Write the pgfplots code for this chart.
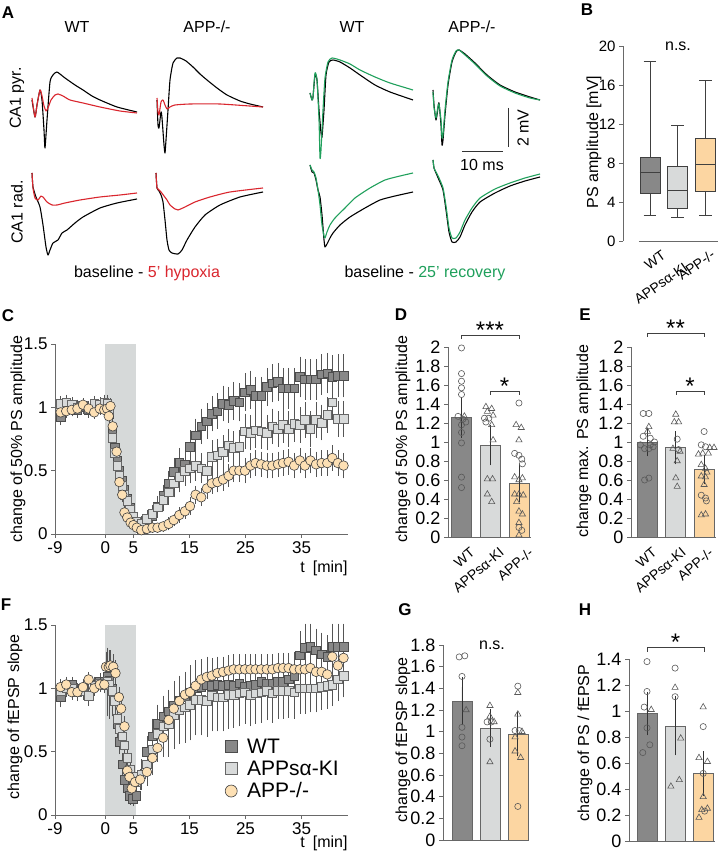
\documentclass[border=0pt]{standalone}
\usepackage{pgfplots}
\pgfplotsset{compat=1.18}
\usepackage{pgfplotstable}
\usepackage{fontspec}
\setmainfont{Liberation Sans}
\setsansfont{Liberation Sans}
\newcommand\fs[1]{\fontsize{#1}{#1}\selectfont}

\definecolor{wtc}{RGB}{136,136,136}
\definecolor{kic}{RGB}{216,218,218}
\definecolor{appc}{RGB}{252,214,162}
\definecolor{appm}{RGB}{253,224,180}
\definecolor{shadec}{RGB}{214,217,217}
\definecolor{axg}{RGB}{105,105,105}
\definecolor{errc}{RGB}{85,85,85}
\definecolor{redt}{RGB}{218,38,46}
\definecolor{greent}{RGB}{32,160,92}

\pgfplotsset{
  panel/.style={scale only axis, enlargelimits=false, clip=false, anchor=south west,
    axis x line*=bottom, axis y line*=left,
    axis line style={-, draw=axg, line width=0.8pt},
    tick style={draw=axg, line width=0.8pt},
    tick align=outside, major tick length=4pt,
    /pgf/number format/assume math mode=true},
  wtS/.style={only marks, mark=square*, mark size=4.3pt,
    mark options={fill=wtc, draw=black!70, line width=0.6pt},
    error bars/y dir=both, error bars/y explicit,
    error bars/error bar style={draw=errc, line width=0.5pt},
    error bars/error mark options={draw=errc, line width=0.5pt, mark size=2.6pt}},
  kiS/.style={only marks, mark=square*, mark size=4.3pt,
    mark options={fill=kic, draw=black!60, line width=0.6pt},
    error bars/y dir=both, error bars/y explicit,
    error bars/error bar style={draw=errc, line width=0.5pt},
    error bars/error mark options={draw=errc, line width=0.5pt, mark size=2.6pt}},
  appS/.style={only marks, mark=*, mark size=4.8pt,
    mark options={fill=appm, draw=black!75, line width=0.6pt},
    error bars/y dir=both, error bars/y explicit,
    error bars/error bar style={draw=errc, line width=0.5pt},
    error bars/error mark options={draw=errc, line width=0.5pt, mark size=2.6pt}},
  barS/.style={ybar, bar width=20pt, bar shift=0pt, draw=black!60, line width=0.6pt,
    error bars/y dir=both, error bars/y explicit,
    error bars/error bar style={draw=black!80, line width=0.8pt},
    error bars/error mark options={draw=black!80, line width=0.8pt, mark size=10pt}},
  ptC/.style={only marks, mark=o, mark size=3.1pt, mark options={draw=black!65, line width=0.6pt}},
  ptT/.style={only marks, mark=triangle, mark size=3.6pt, mark options={draw=black!65, line width=0.6pt}},
  trace/.style={line width=1.1pt, smooth, tension=0.35, line join=round},
  boxS/.style={draw=black!75, line width=0.9pt},
}

\pgfplotstableread{
t v e
-8 0.92 0.04
-7 1.00 0.04
-6 0.99 0.04
-5 0.98 0.04
-4 1.00 0.03
-3 0.98 0.04
-2 1.00 0.03
-1 1.02 0.04
-0.2 1.01 0.04
0.3 1.00 0.05
0.7 0.95 0.05
1.2 0.80 0.06
1.7 0.68 0.06
2.1 0.58 0.06
2.5 0.50 0.06
3.0 0.42 0.05
3.4 0.35 0.05
3.9 0.28 0.05
4.4 0.21 0.04
4.9 0.14 0.04
5.5 0.08 0.03
6.4 0.04 0.03
7.4 0.08 0.04
8.4 0.14 0.05
9.3 0.22 0.06
10.3 0.30 0.07
11.3 0.40 0.08
12.2 0.49 0.09
13.2 0.56 0.10
14.2 0.55 0.10
15.1 0.69 0.11
16.1 0.78 0.11
17.1 0.85 0.12
18.1 0.89 0.12
19.0 0.95 0.12
20.0 0.97 0.12
21.0 1.03 0.12
22.0 1.02 0.12
22.9 1.05 0.13
23.9 1.04 0.13
24.9 1.12 0.13
25.9 1.14 0.13
26.8 1.09 0.13
27.8 1.09 0.13
28.8 1.16 0.13
29.8 1.19 0.13
30.8 1.20 0.13
31.7 1.15 0.14
32.7 1.15 0.14
33.7 1.15 0.14
34.7 1.24 0.14
35.6 1.22 0.14
36.6 1.22 0.14
37.6 1.22 0.14
38.6 1.26 0.14
39.6 1.27 0.14
40.5 1.24 0.15
41.5 1.25 0.15
42.5 1.25 0.15
}\cWT

\pgfplotstableread{
t v e
-8 1.03 0.04
-7 1.04 0.04
-6 1.02 0.04
-5 1.00 0.04
-4 1.01 0.04
-3 0.99 0.04
-2 1.03 0.04
-1 1.02 0.04
-0.2 1.04 0.04
0.3 1.03 0.05
0.7 0.97 0.05
1.2 0.76 0.06
1.7 0.64 0.06
2.1 0.54 0.06
2.5 0.46 0.05
3.0 0.38 0.05
3.4 0.31 0.05
3.9 0.26 0.05
4.4 0.19 0.04
4.9 0.14 0.04
5.5 0.10 0.04
6.4 0.08 0.04
7.4 0.12 0.05
8.4 0.16 0.05
9.3 0.21 0.06
10.3 0.27 0.07
11.3 0.33 0.08
12.2 0.40 0.09
13.2 0.45 0.10
14.2 0.50 0.10
15.1 0.52 0.10
16.1 0.54 0.10
17.1 0.52 0.10
18.1 0.50 0.10
19.0 0.61 0.11
20.0 0.62 0.11
21.0 0.65 0.11
22.0 0.70 0.11
22.9 0.68 0.11
23.9 0.69 0.11
24.9 0.81 0.12
25.9 0.80 0.12
26.8 0.82 0.12
27.8 0.81 0.12
28.8 0.80 0.12
29.8 0.85 0.12
30.8 0.83 0.12
31.7 0.86 0.12
32.7 0.83 0.12
33.7 0.87 0.12
34.7 0.86 0.12
35.6 0.90 0.12
36.6 0.83 0.12
37.6 0.90 0.12
38.6 0.88 0.12
39.6 0.94 0.12
40.5 1.04 0.12
41.5 0.91 0.12
42.5 0.91 0.12
}\cKI

\pgfplotstableread{
t v e
-8 0.96 0.03
-7 0.97 0.03
-6 0.98 0.03
-5 0.99 0.03
-4 1.02 0.03
-3 0.99 0.03
-2 0.96 0.03
-1 0.99 0.03
-0.2 0.98 0.03
0.3 0.99 0.03
0.6 0.93 0.04
0.9 1.01 0.04
1.3 0.85 0.05
2.0 0.65 0.05
2.5 0.41 0.05
3.0 0.31 0.04
3.4 0.17 0.03
3.9 0.13 0.03
4.5 0.09 0.02
5.0 0.07 0.02
5.6 0.05 0.02
6.4 0.03 0.02
7.4 0.04 0.02
8.4 0.05 0.02
9.3 0.05 0.02
10.3 0.06 0.02
11.3 0.08 0.03
12.2 0.11 0.03
13.2 0.15 0.04
14.2 0.18 0.04
15.1 0.22 0.05
16.1 0.31 0.05
17.1 0.29 0.05
18.1 0.36 0.06
19.0 0.40 0.06
20.0 0.41 0.06
21.0 0.43 0.07
22.0 0.46 0.07
22.9 0.50 0.07
23.9 0.50 0.07
24.9 0.50 0.08
25.9 0.54 0.08
26.8 0.56 0.08
27.8 0.55 0.08
28.8 0.54 0.08
29.8 0.54 0.08
30.8 0.55 0.08
31.7 0.56 0.08
32.7 0.57 0.08
33.7 0.54 0.08
34.7 0.58 0.08
35.6 0.54 0.08
36.6 0.58 0.08
37.6 0.55 0.08
38.6 0.56 0.08
39.6 0.56 0.08
40.5 0.60 0.08
41.5 0.56 0.08
42.5 0.54 0.08
}\cAPP

\pgfplotstableread{
t v e
-8 0.93 0.06
-7 1.02 0.05
-6 1.03 0.04
-5 0.98 0.04
-4 1.00 0.05
-3 0.94 0.05
-2 1.03 0.04
-1 1.05 0.05
-0.2 1.05 0.05
0.3 1.09 0.20
0.7 1.06 0.22
1.2 1.00 0.15
1.7 0.90 0.12
2.1 0.72 0.10
2.5 0.58 0.08
3.0 0.40 0.07
3.4 0.28 0.06
3.9 0.21 0.05
4.4 0.15 0.05
4.9 0.13 0.04
5.5 0.15 0.04
6.4 0.32 0.08
7.4 0.50 0.10
8.4 0.62 0.12
9.3 0.72 0.13
10.3 0.78 0.14
11.3 0.82 0.15
12.2 0.86 0.16
13.2 0.90 0.17
14.2 0.93 0.18
15.1 0.97 0.19
16.1 1.00 0.20
17.1 1.01 0.20
18.1 1.03 0.20
19.0 1.02 0.20
20.0 1.03 0.20
21.0 1.02 0.20
22.0 1.03 0.20
22.9 1.02 0.20
23.9 1.04 0.20
24.9 1.01 0.20
25.9 1.02 0.19
26.8 1.03 0.19
27.8 1.05 0.19
28.8 1.04 0.18
29.8 1.04 0.18
30.8 1.05 0.18
31.7 1.05 0.18
32.7 1.07 0.18
33.7 1.10 0.17
34.7 1.26 0.17
35.6 1.32 0.17
36.6 1.33 0.16
37.6 1.30 0.15
38.6 1.27 0.15
39.6 1.25 0.15
40.5 1.33 0.16
41.5 1.33 0.16
42.5 1.33 0.16
}\fWT

\pgfplotstableread{
t v e
-8 0.98 0.06
-7 1.00 0.05
-6 1.00 0.05
-5 0.97 0.05
-4 0.98 0.05
-3 0.94 0.06
-2 1.02 0.05
-1 1.04 0.05
-0.2 1.03 0.05
0.3 1.05 0.25
0.7 1.03 0.25
1.2 0.98 0.18
1.7 0.90 0.15
2.1 0.76 0.12
2.5 0.68 0.10
3.0 0.62 0.09
3.4 0.55 0.08
3.9 0.45 0.08
4.4 0.36 0.07
4.9 0.30 0.07
5.5 0.26 0.06
6.4 0.32 0.10
7.4 0.40 0.15
8.4 0.52 0.18
9.3 0.64 0.20
10.3 0.70 0.22
11.3 0.72 0.24
12.2 0.79 0.25
13.2 0.83 0.25
14.2 0.85 0.26
15.1 0.87 0.26
16.1 0.91 0.26
17.1 0.91 0.26
18.1 0.90 0.26
19.0 0.94 0.26
20.0 0.93 0.25
21.0 0.93 0.25
22.0 0.95 0.25
22.9 0.95 0.24
23.9 0.96 0.24
24.9 0.97 0.23
25.9 0.95 0.23
26.8 0.96 0.22
27.8 0.97 0.22
28.8 0.98 0.21
29.8 0.96 0.21
30.8 0.98 0.20
31.7 0.98 0.20
32.7 0.98 0.19
33.7 0.97 0.19
34.7 1.00 0.18
35.6 1.00 0.18
36.6 1.00 0.17
37.6 1.00 0.17
38.6 1.01 0.16
39.6 1.02 0.16
40.5 1.03 0.15
41.5 1.07 0.15
42.5 1.10 0.15
}\fKI

\pgfplotstableread{
t v e
-8 1.01 0.04
-7 1.03 0.04
-6 0.97 0.04
-5 0.97 0.04
-4 1.01 0.04
-3 1.07 0.04
-2 1.00 0.04
-1 1.03 0.04
-0.2 1.03 0.04
0.1 1.17 0.10
0.6 1.17 0.10
0.9 1.18 0.10
1.4 1.17 0.08
1.8 1.12 0.08
2.4 0.93 0.06
2.8 0.84 0.06
3.4 0.70 0.06
3.9 0.35 0.05
4.3 0.30 0.05
4.7 0.21 0.04
5.3 0.26 0.05
6.2 0.28 0.06
7.4 0.34 0.07
8.4 0.45 0.08
9.3 0.53 0.09
10.3 0.61 0.10
11.3 0.75 0.10
12.2 0.84 0.10
13.2 0.90 0.10
14.2 0.95 0.10
15.1 0.97 0.10
16.1 1.02 0.10
17.1 1.07 0.10
18.1 1.09 0.10
19.0 1.10 0.10
20.0 1.12 0.10
21.0 1.13 0.10
22.0 1.14 0.10
22.9 1.15 0.10
23.9 1.15 0.10
24.9 1.15 0.10
25.9 1.15 0.10
26.8 1.15 0.10
27.8 1.15 0.10
28.8 1.15 0.10
29.8 1.15 0.10
30.8 1.16 0.10
31.7 1.16 0.10
32.7 1.16 0.10
33.7 1.15 0.10
34.7 1.15 0.10
35.6 1.15 0.10
36.6 1.16 0.10
37.6 1.13 0.10
38.6 1.13 0.10
39.6 1.11 0.10
40.5 1.25 0.10
41.5 1.18 0.10
42.5 1.24 0.10
}\fAPP

\begin{document}
\begin{tikzpicture}
\useasboundingbox (0,0) rectangle (719pt,853pt);
\fill[white] (0,0) rectangle (719pt,853pt);

% ---------- Panel A traces (coordinates in pixels, y downward) ----------
\begin{axis}[at={(0pt,0pt)}, anchor=south west, scale only axis, width=719pt, height=853pt,
  xmin=0, xmax=719, ymin=0, ymax=853, y dir=reverse, hide axis, clip=false]
\addplot[trace, black] coordinates {(32,100)(35,117)(37,105)(40,90)(42,100)(44,130)(45,148)(47,120)(50,82)(53,75)(57,72)(65,78)(75,85)(83,90)(92,96)(100,100)(117,107)(137,112)};
\addplot[trace, redt] coordinates {(32,98)(35,117)(37,105)(40,90)(42,96)(44,106)(46,111)(48,108)(51,100)(55,95)(58,94)(63,96)(70,100)(83,103)(100,107)(120,111)(137,113)};
\addplot[trace, black] coordinates {(157,100)(158,125)(159,128)(161,112)(162,118)(164,145)(165,153)(166,140)(168,110)(170,80)(173,63)(177,58)(180,58)(186,61)(193,67)(200,74)(207,80)(217,88)(227,95)(240,101)(250,104)(263,107)};
\addplot[trace, redt] coordinates {(157,98)(158,112)(159,115)(161,102)(163,100)(165,105)(167,109)(170,107)(175,105)(190,104)(220,104)(263,107)};
\addplot[trace, black] coordinates {(32,173)(33,187)(36,197)(40,207)(43,225)(46,247)(48,255)(50,250)(53,243)(58,240)(62,233)(67,230)(75,223)(83,217)(100,208)(117,203)(137,199)};
\addplot[trace, redt] coordinates {(32,173)(33,188)(35,198)(38,200)(41,196)(43,197)(47,202)(52,205)(57,205)(65,203)(80,200)(100,197)(120,195)(137,193)};
\addplot[trace, black] coordinates {(156,173)(157,188)(159,191)(161,195)(163,202)(165,220)(167,240)(169,250)(172,253)(178,254)(182,250)(187,240)(195,227)(205,215)(220,205)(240,197)(263,192)};
\addplot[trace, redt] coordinates {(156,173)(157,188)(159,190)(161,192)(164,196)(167,200)(170,205)(175,209)(178,210)(185,207)(195,202)(210,197)(230,192)(263,188)};
\addplot[trace, black] coordinates {(310,93)(312,100)(313,97)(315,75)(317,80)(319,110)(321,133)(322,137)(324,110)(326,75)(329,62)(333,60)(340,62)(350,68)(360,75)(375,85)(390,92)(413,100)};
\addplot[trace, greent] coordinates {(310,93)(312,100)(313,97)(315,73)(317,80)(319,120)(320,158)(321,150)(323,110)(325,78)(328,62)(332,58)(340,60)(350,64)(360,70)(375,77)(390,83)(413,90)};
\addplot[trace, black] coordinates {(433,90)(434,105)(436,120)(438,108)(439,103)(441,125)(442,145)(443,140)(445,115)(448,85)(452,62)(456,52)(459,50)(465,54)(475,63)(487,75)(500,85)(515,92)(530,97)(540,100)};
\addplot[trace, greent] coordinates {(433,92)(434,107)(436,118)(438,106)(439,104)(441,120)(442,138)(443,135)(445,110)(448,82)(452,60)(456,51)(459,50)(465,55)(475,64)(487,76)(500,86)(515,93)(530,98)(540,100)};
\addplot[trace, black] coordinates {(310,165)(312,172)(314,173)(316,180)(318,190)(320,197)(322,215)(324,240)(325,247)(327,244)(330,238)(333,233)(340,225)(350,217)(365,208)(380,200)(395,196)(413,192)};
\addplot[trace, greent] coordinates {(310,165)(312,170)(314,172)(316,178)(318,190)(320,205)(322,225)(324,236)(325,238)(327,232)(330,225)(335,218)(345,208)(355,198)(370,188)(385,180)(400,176)(413,173)};
\addplot[trace, black] coordinates {(433,160)(434,168)(436,173)(439,180)(443,190)(446,210)(449,232)(452,242)(456,242)(460,237)(465,225)(472,212)(480,202)(495,193)(510,186)(525,181)(540,177)};
\addplot[trace, greent] coordinates {(433,160)(434,168)(436,172)(439,178)(443,188)(446,206)(449,228)(452,238)(456,238)(460,232)(465,220)(472,208)(480,198)(495,189)(510,183)(525,178)(540,174)};
\end{axis}
% scale bars
\draw[black!80, line width=1pt] (508pt,745pt) -- (508pt,706pt);
\draw[black!80, line width=1pt] (462pt,701pt) -- (503pt,701pt);
\node[rotate=90, font=\fs{16}] at (523pt,725pt) {2 mV};
\node[font=\fs{16}] at (482pt,688pt) {10 ms};
% panel A texts
\node[font=\fs{17}\bfseries] at (8pt,840pt) {A};
\node[font=\fs{16}] at (77pt,826pt) {WT};
\node[font=\fs{16}] at (207pt,826pt) {APP-/-};
\node[font=\fs{16}] at (352pt,826pt) {WT};
\node[font=\fs{16}] at (472pt,826pt) {APP-/-};
\node[rotate=90, font=\fs{16}] at (17pt,755pt) {CA1 pyr.};
\node[rotate=90, font=\fs{16}] at (17pt,641pt) {CA1 rad.};
\node[font=\fs{16}] at (147pt,580pt) {baseline - \textcolor{redt}{5' hypoxia}};
\node[font=\fs{16}] at (425pt,580pt) {baseline - \textcolor{greent}{25' recovery}};

% ---------- Panel B (box plots drawn from their five numbers) ----------
\begin{axis}[panel, at={(623pt,612pt)}, width=95pt, height=195pt,
  xmin=-0.97, xmax=2.45, ymin=0, ymax=20, ytick={0,4,8,12,16,20},
  xtick=\empty, x axis line style={draw=none},
  yticklabel style={font=\fs{15}}]
\draw[axg, line width=0.8pt] (axis cs:-0.4,0) -- (axis cs:2.45,0);
% WT
\addplot[boxS] coordinates {(0,4.9)(0,2.6)};
\addplot[boxS] coordinates {(-0.23,2.6)(0.23,2.6)};
\addplot[boxS] coordinates {(0,8.6)(0,18.4)};
\addplot[boxS] coordinates {(-0.23,18.4)(0.23,18.4)};
\addplot[boxS, fill=wtc] coordinates {(-0.36,4.9)(0.36,4.9)(0.36,8.6)(-0.36,8.6)} -- cycle;
\addplot[boxS] coordinates {(-0.36,7.0)(0.36,7.0)};
% APPsa-KI
\addplot[boxS] coordinates {(1,3.3)(1,2.4)};
\addplot[boxS] coordinates {(0.77,2.4)(1.23,2.4)};
\addplot[boxS] coordinates {(1,7.6)(1,11.8)};
\addplot[boxS] coordinates {(0.77,11.8)(1.23,11.8)};
\addplot[boxS, fill=kic] coordinates {(0.64,3.3)(1.36,3.3)(1.36,7.6)(0.64,7.6)} -- cycle;
\addplot[boxS] coordinates {(0.64,5.2)(1.36,5.2)};
% APP-/-
\addplot[boxS] coordinates {(2,5.1)(2,2.6)};
\addplot[boxS] coordinates {(1.77,2.6)(2.23,2.6)};
\addplot[boxS] coordinates {(2,10.5)(2,16.5)};
\addplot[boxS] coordinates {(1.77,16.5)(2.23,16.5)};
\addplot[boxS, fill=appc] coordinates {(1.64,5.1)(2.36,5.1)(2.36,10.5)(1.64,10.5)} -- cycle;
\addplot[boxS] coordinates {(1.64,7.8)(2.36,7.8)};
\end{axis}
\node[font=\fs{17}\bfseries] at (587pt,843pt) {B};
\node[rotate=90, font=\fs{16}] at (594pt,711pt) {PS amplitude [mV]};
\node[font=\fs{16}] at (678pt,807pt) {n.s.};
\node[rotate=35, anchor=north east, font=\fs{14}] at (662pt,608pt) {WT};
\node[rotate=35, anchor=north east, font=\fs{14}] at (684pt,596pt) {APPsα-KI};
\node[rotate=35, anchor=north east, font=\fs{14}] at (711pt,609pt) {APP-/-};

% ---------- Panel C ----------
\begin{axis}[panel, at={(55pt,319pt)}, width=293pt, height=190pt,
  xmin=-9, xmax=43.3, ymin=0, ymax=1.5, xtick={-9,0,5,15,25,35}, ytick={0,0.5,1,1.5},
  tick label style={font=\fs{17}}]
\fill[shadec] (axis cs:0,0) rectangle (axis cs:5.5,1.5);
\addplot[wtS] table[x=t, y=v, y error=e]{\cWT};
\addplot[kiS] table[x=t, y=v, y error=e]{\cKI};
\addplot[appS] table[x=t, y=v, y error=e]{\cAPP};
\end{axis}
\node[font=\fs{17}\bfseries] at (8pt,537pt) {C};
\node[rotate=90, font=\fs{16}] at (18pt,414pt) {change of 50\% PS amplitude};
\node[font=\fs{16}] at (324pt,285pt) {t\enspace[min]};

% ---------- Panel D ----------
\begin{axis}[panel, at={(448pt,316pt)}, width=83pt, height=190pt,
  xmin=-0.47, xmax=2.42, ymin=0, ymax=2, ytick={0,0.2,...,2.01}, xtick=\empty,
  yticklabel style={font=\fs{18}}]
\addplot[barS, fill=wtc] coordinates {(0,1.255) +- (0,0.105)};
\addplot[barS, fill=kic] coordinates {(1,0.965) +- (0,0.105)};
\addplot[barS, fill=appc] coordinates {(2,0.565) +- (0,0.095)};
\addplot[ptC] coordinates {(0,1.99)(0,1.72)(0,1.64)(0,1.57)(0,1.50)(-0.12,1.27)(0.05,1.24)(0.15,1.21)(0,1.18)(0,1.10)(0,0.99)(0,0.63)(0,0.52)
  (0.8,1.25)(0.95,1.25)(0.85,1.21)
  (2,1.41)(1.85,0.88)(2,0.86)(2.1,0.82)(2.12,0.77)(2,0.10)(2.1,0.07)};
\addplot[ptT] coordinates {(0.1,1.27)
  (0.85,1.37)(1.05,1.35)(0.9,1.32)(1.1,1.28)(1.05,1.18)(1.1,1.02)(0.9,0.61)(1.08,0.61)(0.9,0.45)(1.05,0.37)
  (1.9,1.18)(2.08,1.15)(2,1.02)(1.85,0.63)(2,0.60)(2.12,0.62)(1.85,0.45)(2,0.45)(2.15,0.44)(1.92,0.37)(2,0.27)(2.12,0.24)(2,0.15)(2,0.02)};
\end{axis}
\node[font=\fs{17}\bfseries] at (401pt,538pt) {D};
\node[rotate=90, font=\fs{16}] at (403pt,414pt) {change of 50\% PS amplitude};
\draw[black!75, line width=1pt] (461pt,514pt) -- (461pt,517pt) -- (519pt,517pt) -- (519pt,514pt);
\node[font=\fs{24}] at (490pt,523pt) {***};
\draw[black!75, line width=1pt] (490pt,458pt) -- (490pt,461pt) -- (519pt,461pt) -- (519pt,458pt);
\node[font=\fs{24}] at (504.5pt,467pt) {*};
\node[rotate=40, anchor=north east, font=\fs{14}] at (470pt,311pt) {WT};
\node[rotate=40, anchor=north east, font=\fs{14}] at (499pt,311pt) {APPsα-KI};
\node[rotate=40, anchor=north east, font=\fs{14}] at (528pt,311pt) {APP-/-};

% ---------- Panel E ----------
\begin{axis}[panel, at={(631pt,316pt)}, width=85pt, height=190pt,
  xmin=-0.58, xmax=2.42, ymin=0, ymax=2, ytick={0,0.2,...,2.01}, xtick=\empty,
  yticklabel style={font=\fs{18}}]
\addplot[barS, fill=wtc] coordinates {(0,1.00) +- (0,0.045)};
\addplot[barS, fill=kic] coordinates {(1,0.94) +- (0,0.07)};
\addplot[barS, fill=appc] coordinates {(2,0.71) +- (0,0.05)};
\addplot[ptC] coordinates {(-0.15,1.30)(0.05,1.30)(-0.15,1.06)(0.1,1.04)(0.25,1.00)(-0.25,0.97)(0.1,0.97)(-0.1,0.93)(0.05,0.93)(0.2,0.95)(0.05,0.62)(-0.1,0.60)
  (1.05,1.03)(1.1,0.92)
  (2,1.11)(1.9,0.97)(2.05,0.95)(1.9,0.44)(2.05,0.41)(2.08,0.38)};
\addplot[ptT] coordinates {(0.05,1.16)(0,1.11)
  (1,1.29)(0.95,1.21)(1.1,1.21)(0.9,0.93)(1.15,0.90)(1.05,0.80)(1,0.62)(1.05,0.53)
  (2.2,0.94)(2.35,0.94)(1.8,0.87)(1.95,0.88)(2.15,0.88)(1.9,0.76)(2.05,0.72)(2.1,0.68)(1.9,0.64)(2.05,0.63)(2,0.55)(1.9,0.23)(2.05,0.24)};
\end{axis}
\node[font=\fs{17}\bfseries] at (585pt,538pt) {E};
\node[rotate=90, font=\fs{16}] at (584pt,412pt) {change max. PS amplitude};
\draw[black!75, line width=1pt] (647pt,516pt) -- (647pt,519pt) -- (704pt,519pt) -- (704pt,516pt);
\node[font=\fs{24}] at (675.5pt,525pt) {**};
\draw[black!75, line width=1pt] (676pt,458pt) -- (676pt,461pt) -- (704pt,461pt) -- (704pt,458pt);
\node[font=\fs{24}] at (690pt,467pt) {*};
\node[rotate=40, anchor=north east, font=\fs{14}] at (652pt,311pt) {WT};
\node[rotate=40, anchor=north east, font=\fs{14}] at (681pt,311pt) {APPsα-KI};
\node[rotate=40, anchor=north east, font=\fs{14}] at (708pt,311pt) {APP-/-};

% ---------- Panel F ----------
\begin{axis}[panel, at={(55pt,38pt)}, width=293pt, height=190pt,
  xmin=-9, xmax=43.3, ymin=0, ymax=1.5, xtick={-9,0,5,15,25,35}, ytick={0,0.5,1,1.5},
  tick label style={font=\fs{17}},
  legend style={at={(0.57,0.06)}, anchor=south west, draw=none, fill=none,
    font=\fs{21}, row sep=2pt, column sep=8pt, legend cell align=left},
  legend image post style={mark size=6pt}]
\fill[shadec] (axis cs:0,0) rectangle (axis cs:5.5,1.5);
\addplot[wtS] table[x=t, y=v, y error=e]{\fWT};
\addlegendentry{WT}
\addplot[kiS] table[x=t, y=v, y error=e]{\fKI};
\addlegendentry{APPsα-KI}
\addplot[appS] table[x=t, y=v, y error=e]{\fAPP};
\addlegendentry{APP-/-}
\end{axis}
\node[font=\fs{17}\bfseries] at (6pt,248pt) {F};
\node[rotate=90, font=\fs{16}] at (15pt,136pt) {change of fEPSP slope};
\node[font=\fs{16}] at (324pt,10pt) {t\enspace[min]};

% ---------- Panel G ----------
\begin{axis}[panel, at={(443pt,13pt)}, width=86pt, height=195pt,
  xmin=-0.68, xmax=2.4, ymin=0, ymax=1.8, ytick={0,0.2,...,1.81}, xtick=\empty,
  yticklabel style={font=\fs{18}}]
\addplot[barS, fill=wtc] coordinates {(0,1.28) +- (0,0.13)};
\addplot[barS, fill=kic] coordinates {(1,1.035) +- (0,0.08)};
\addplot[barS, fill=appc] coordinates {(2,0.975) +- (0,0.11)};
\addplot[ptC] coordinates {(-0.1,1.69)(0.1,1.70)(0,1.51)(0,1.04)(0,0.95)(0,0.87)
  (0.9,1.09)(1.05,1.09)(1,0.93)
  (2,1.42)(1.9,1.01)(2.05,1.01)(2,0.31)};
\addplot[ptT] coordinates {(0.15,1.20)
  (1,1.24)(1,1.14)(1.15,1.09)(1,0.72)
  (2,1.36)(2,1.16)(2.15,1.00)(1.9,0.95)(1.9,0.82)(2.1,0.76)};
\end{axis}
\node[font=\fs{17}\bfseries] at (405pt,243pt) {G};
\node[rotate=90, font=\fs{16}] at (403pt,113pt) {change of fEPSP slope};
\node[font=\fs{16}] at (492pt,208pt) {n.s.};

% ---------- Panel H ----------
\begin{axis}[panel, at={(629pt,12pt)}, width=86pt, height=182pt,
  xmin=-0.64, xmax=2.42, ymin=0, ymax=1.4, ytick={0,0.2,...,1.41}, xtick=\empty,
  yticklabel style={font=\fs{18}}]
\addplot[barS, fill=wtc] coordinates {(0,0.98) +- (0,0.09)};
\addplot[barS, fill=kic] coordinates {(1,0.885) +- (0,0.15)};
\addplot[barS, fill=appc] coordinates {(2,0.52) +- (0,0.095)};
\addplot[ptC] coordinates {(0,1.38)(0,1.15)(-0.1,1.03)(0,0.87)(0.1,0.74)(-0.15,0.68)
  (1,1.33)(1,1.11)
  (2,0.88)(2,0.52)(2.05,0.23)};
\addplot[ptT] coordinates {(0.15,1.01)
  (1,1.18)(1.2,0.79)(0.85,0.42)(1.15,0.47)
  (2,1.03)(1.85,0.64)(2.15,0.61)(2,0.34)(1.95,0.24)(2.15,0.25)(1.85,0.18)};
\end{axis}
\node[font=\fs{17}\bfseries] at (585pt,243pt) {H};
\node[rotate=90, font=\fs{16}] at (585pt,110pt) {change of PS / fEPSP};
\draw[black!75, line width=1pt] (647pt,201pt) -- (647pt,205pt) -- (704pt,205pt) -- (704pt,201pt);
\node[font=\fs{24}] at (675.5pt,211pt) {*};
\end{tikzpicture}
\end{document}
